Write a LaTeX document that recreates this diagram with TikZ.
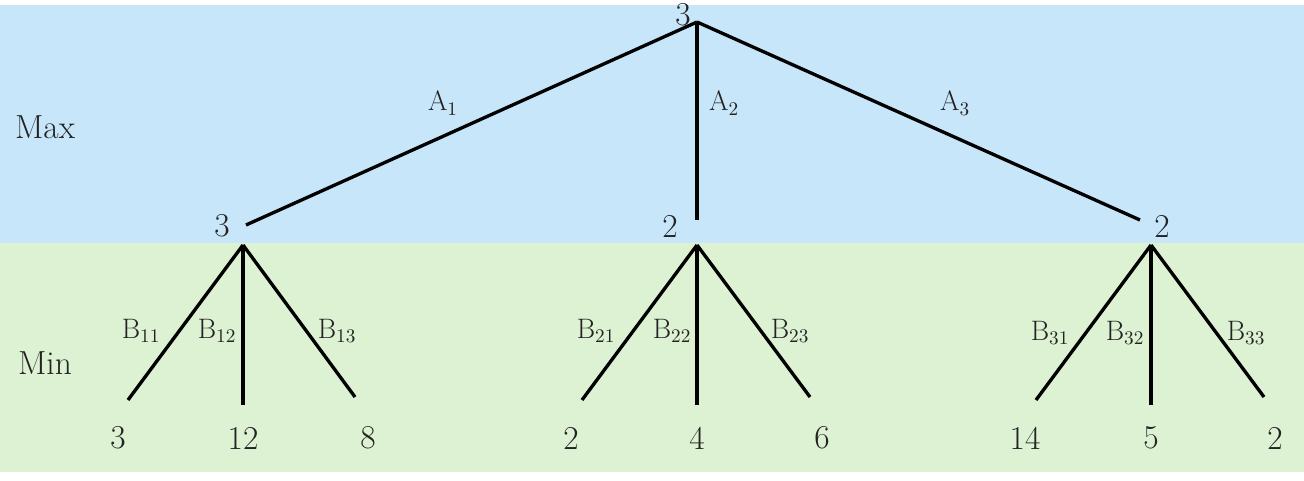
\documentclass[tikz,border=0pt]{standalone}
\usepackage{tikz}
\usetikzlibrary{positioning}
\definecolor{MaxBlue}{RGB}{200,230,250}
\definecolor{MinGreen}{RGB}{221,242,211}
\definecolor{TextGray}{RGB}{35,35,35}
\tikzset{
  edge/.style={line width=1.9pt, color=black},
  val/.style={font=\fontsize{19}{22}\selectfont, text=TextGray, inner sep=0pt},
  lab/.style={font=\fontsize{16}{19}\selectfont, text=TextGray, inner sep=0pt},
  level/.style={font=\fontsize{19}{22}\selectfont, text=TextGray, inner sep=0pt}
}
\begin{document}
\begin{tikzpicture}[x=0.02cm, y=-0.02cm]
  \useasboundingbox (0,0) rectangle (1304,480);

  % Bands
  \fill[MaxBlue]  (0,5)   rectangle (1304,243);
  \fill[MinGreen] (0,243) rectangle (1304,472);
  \node[level] (maxlbl) at (45,127) {Max};
  \node[level] (minlbl) at (45,363) {Min};

  % Max layer
  \coordinate (root) at (697,22);
  \coordinate (a1) at (246,225);
  \coordinate (a2) at (697,220);
  \coordinate (a3) at (1140,220);
  \node[val] (rootval) at (683,15) {3};
  \node[val] (a1val) at (222,226) {3};
  \node[val] (a2val) at (670,226) {2};
  \node[val] (a3val) at (1162,226) {2};

  \draw[edge] (root) -- (a1);
  \draw[edge] (root) -- (a2);
  \draw[edge] (root) -- (a3);
  \node[lab] at (443,103) {A$_1$};
  \node[lab] at (724,103) {A$_2$};
  \node[lab] at (955,103) {A$_3$};

  % Min layer
  \coordinate (b1) at (243,245);
  \coordinate (b2) at (697,245);
  \coordinate (b3) at (1151,245);

  \coordinate (b11) at (128,400); \coordinate (b12) at (243,405); \coordinate (b13) at (355,397);
  \coordinate (b21) at (582,400); \coordinate (b22) at (697,405); \coordinate (b23) at (810,397);
  \coordinate (b31) at (1036,400); \coordinate (b32) at (1151,405); \coordinate (b33) at (1264,397);

  \draw[edge] (b1) -- (b11); \draw[edge] (b1) -- (b12); \draw[edge] (b1) -- (b13);
  \draw[edge] (b2) -- (b21); \draw[edge] (b2) -- (b22); \draw[edge] (b2) -- (b23);
  \draw[edge] (b3) -- (b31); \draw[edge] (b3) -- (b32); \draw[edge] (b3) -- (b33);

  \node[lab] at (141,331) {B$_{11}$}; \node[lab] at (217,331) {B$_{12}$}; \node[lab] at (337,331) {B$_{13}$};
  \node[lab] at (596,331) {B$_{21}$}; \node[lab] at (672,331) {B$_{22}$}; \node[lab] at (790,331) {B$_{23}$};
  \node[lab] at (1050,333) {B$_{31}$}; \node[lab] at (1125,333) {B$_{32}$}; \node[lab] at (1246,333) {B$_{33}$};

  % Leaves
  \node[val] (v11) at (118,438) {3};  \node[val] (v12) at (243,438) {12}; \node[val] (v13) at (368,438) {8};
  \node[val] (v21) at (571,438) {2};  \node[val] (v22) at (697,438) {4};  \node[val] (v23) at (822,438) {6};
  \node[val] (v31) at (1025,438) {14}; \node[val] (v32) at (1151,438) {5}; \node[val] (v33) at (1275,438) {2};

\end{tikzpicture}
\end{document}
